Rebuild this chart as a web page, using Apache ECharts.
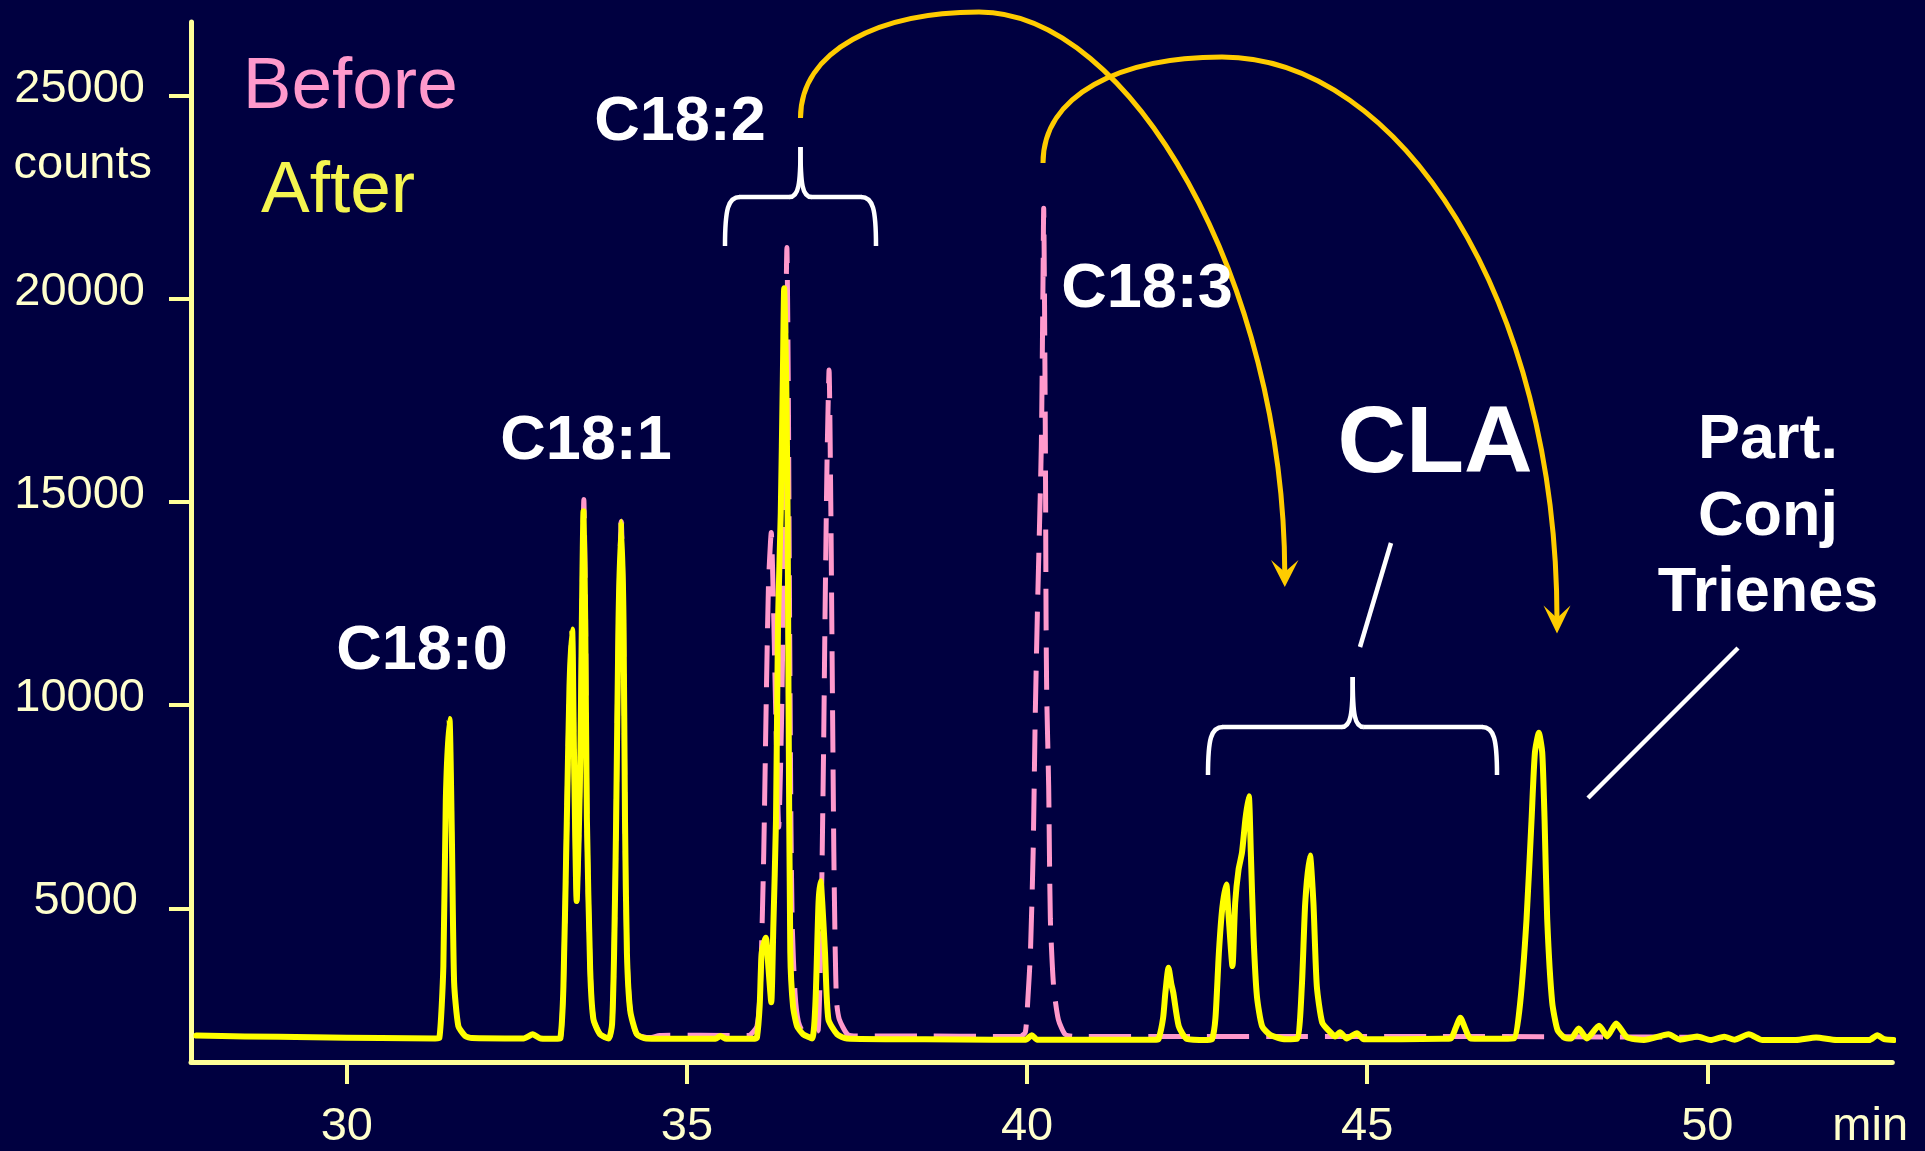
<!DOCTYPE html>
<html>
<head>
<meta charset="utf-8">
<script src="https://cdn.jsdelivr.net/npm/echarts@6/dist/echarts.min.js"></script>
<style>
html,body{margin:0;padding:0;background:#000040;}
#chart{width:1925px;height:1151px;}
</style>
</head>
<body>
<div id="chart"></div>
<script>
// ---------- DATA ----------
const xTicks = [30, 35, 40, 45, 50];
const yTicks = [5000, 10000, 15000, 20000, 25000];
const seriesNames = ['Before', 'After'];
const peakLabels = ['C18:0', 'C18:1', 'C18:2', 'C18:3', 'CLA'];
const trieneLabel = ['Part.', 'Conj', 'Trienes'];

// retention time (min), counts  — "After" trace (solid yellow)
const afterTrace = [
  [27.79,1870],[28.5,1850],[29.5,1830],[30.5,1810],[31.3,1800],
  [31.36,1810],[31.42,3580],[31.456,7680],[31.51,9660],[31.544,6870],[31.578,3180],[31.64,2105],[31.74,1860],[31.84,1810],
  [32.6,1800],[32.735,1900],[32.85,1800],[33.1,1790],
  [33.14,1800],[33.185,3090],[33.235,7190],[33.274,10470],[33.313,11860],[33.34,8836],[33.38,5180],[33.41,6800],[33.435,8836],[33.456,12100],[33.48,14770],[33.505,12100],[33.53,7190],[33.578,3500],[33.626,2270],[33.725,1900],[33.85,1800],
  [33.90,2150],[33.93,3918],[33.96,7190],[33.995,12106],[34.035,14520],[34.068,12106],[34.09,7190],[34.118,3918],[34.167,2480],[34.265,1900],[34.4,1800],
  [35.0,1790],[35.42,1790],[35.49,1860],[35.58,1790],[36.0,1790],
  [36.03,1820],[36.07,2600],[36.10,3910],[36.16,4280],[36.20,3500],[36.24,2690],[36.27,4500],[36.31,7190],[36.34,12100],[36.38,14740],[36.41,18010],[36.43,20260],[36.46,18010],[36.48,14740],[36.494,10220],[36.52,3918],[36.56,2600],[36.62,2100],[36.71,1900],[36.84,1800],
  [36.89,2690],[36.935,5140],[36.965,5670],[36.99,5140],[37.03,3918],[37.08,2270],[37.21,1900],[37.35,1800],
  [38.5,1780],[39.5,1770],[39.98,1770],[40.07,1880],[40.15,1770],[41.0,1770],[41.9,1770],
  [41.935,1790],[42.0,2300],[42.034,2927],[42.08,3540],[42.12,3150],[42.15,2927],[42.23,2105],[42.35,1790],[42.65,1760],
  [42.72,1780],[42.77,2300],[42.82,3900],[42.87,5000],[42.93,5590],[42.96,4900],[43.02,3580],[43.06,5140],[43.11,5960],[43.16,6370],[43.21,7190],[43.26,7760],[43.29,6370],[43.33,4310],[43.38,2830],[43.456,2100],[43.58,1880],[43.8,1780],
  [43.97,1790],[44.04,3090],[44.09,5140],[44.16,6300],[44.21,5140],[44.26,3090],[44.34,2190],[44.46,1950],[44.53,1850],[44.60,1950],[44.7,1800],[44.85,1930],[44.95,1780],[45.5,1780],
  [46.1,1790],[46.23,1800],[46.30,2050],[46.37,2310],[46.44,2050],[46.52,1800],[47.0,1790],
  [47.16,1800],[47.25,2680],[47.343,4730],[47.417,7190],[47.466,8830],[47.524,9320],[47.574,8830],[47.608,7190],[47.647,4730],[47.72,2690],[47.80,2000],[47.9,1820],
  [48.0,1800],[48.11,2045],[48.23,1800],[48.41,2110],[48.53,1850],[48.66,2170],[48.82,1830],[49.07,1760],[49.43,1900],[49.6,1770],[49.85,1850],[50.05,1760],[50.25,1840],[50.4,1770],[50.61,1900],[50.81,1760],[51.3,1760],[51.6,1820],[51.9,1760],[52.38,1760],[52.5,1880],[52.6,1780],[52.74,1760]
];

// "Before" trace (dashed pink)
const beforeTrace = [
  [33.1,1800],[33.14,1800],[33.185,3090],[33.235,7190],[33.274,10470],[33.313,11860],[33.34,8836],[33.38,5180],[33.41,6800],[33.435,8836],[33.456,12100],[33.485,15060],[33.51,12100],[33.53,7190],[33.578,3500],[33.626,2270],[33.725,1900],[33.85,1800],
  [33.90,2150],[33.93,3918],[33.96,7190],[33.995,12106],[34.035,14520],[34.068,12106],[34.09,7190],[34.118,3918],[34.167,2480],[34.265,1900],[34.45,1820],[34.6,1870],[35.2,1880],[35.9,1870],
  [36.03,2100],[36.08,3090],[36.11,4900],[36.13,6380],[36.17,10470],[36.20,13000],[36.24,14250],[36.27,12650],[36.31,9500],[36.35,7000],[36.39,9500],[36.42,13000],[36.445,18000],[36.47,21260],[36.49,18000],[36.51,12000],[36.53,7000],[36.55,4500],[36.59,2900],[36.64,2200],[36.72,1950],[36.88,1950],
  [36.93,2000],[36.96,3500],[36.985,5900],[37.01,9000],[37.03,12100],[37.06,16000],[37.09,18250],[37.115,15000],[37.13,12100],[37.16,6380],[37.18,4000],[37.20,2700],[37.24,2270],[37.36,1900],[37.5,1860],
  [38.5,1860],[39.5,1850],[39.9,1850],[39.975,1950],[40.01,2700],[40.05,3920],[40.09,6380],[40.12,9660],[40.15,12100],[40.21,16370],[40.235,20470],[40.245,22230],[40.255,20470],[40.27,16370],[40.28,12106],[40.29,10220],[40.318,8020],[40.343,4740],[40.39,3100],[40.46,2270],[40.56,1900],[40.7,1850],
  [42.0,1850],[44.0,1850],[46.0,1850],[48.0,1840],[49.9,1830]
];

// ---------- STYLE ----------
const FONT = "'Liberation Sans', Arial, Helvetica, sans-serif";
const AXIS = '#FFFF99';
const LABEL = '#FFFFCC';
const PINK = '#FF99CC';
const YELLOW = '#FFFF00';
const ORANGE = '#FFCC00';
const WHITE = '#FFFFFF';

function txt(text, x, y, size, opts) {
  opts = opts || {};
  return {
    type: 'text', x: x, y: y, z: 100,
    style: {
      text: text,
      fill: opts.color || WHITE,
      font: (opts.bold === false ? '' : 'bold ') + size + 'px ' + FONT,
      textAlign: opts.align || 'center', align: opts.align || 'center',
      textVerticalAlign: 'middle', verticalAlign: 'middle'
    }
  };
}
function bez(p0, c1, c2, p1, color, w) {
  return { type: 'bezierCurve', z: 90,
    shape: { x1: p0[0], y1: p0[1], cpx1: c1[0], cpy1: c1[1], cpx2: c2[0], cpy2: c2[1], x2: p1[0], y2: p1[1] },
    style: { stroke: color, lineWidth: w, fill: null, lineCap: 'butt' } };
}
function seg(p0, p1, color, w) {
  return { type: 'line', z: 90, shape: { x1: p0[0], y1: p0[1], x2: p1[0], y2: p1[1] },
    style: { stroke: color, lineWidth: w, lineCap: 'butt' } };
}
function brace(xl, xr, xTip, yH, yEnd, yTip, color, w) {
  const r = 15;
  return [
    bez([xl, yEnd], [xl, yH + 12], [xl + 3, yH], [xl + r, yH], color, w),
    seg([xl + r - 0.5, yH], [xTip - 10.5, yH], color, w),
    bez([xTip - 11, yH], [xTip - 2, yH], [xTip, yH - 12], [xTip, yTip], color, w),
    bez([xTip, yTip], [xTip, yH - 12], [xTip + 2, yH], [xTip + 11, yH], color, w),
    seg([xTip + 10.5, yH], [xr - r + 0.5, yH], color, w),
    bez([xr - r, yH], [xr - 3, yH], [xr, yH + 12], [xr, yEnd], color, w)
  ];
}

const graphics = [
  txt(peakLabels[0], 422, 652, 63),
  txt(peakLabels[1], 586, 442, 63),
  txt(peakLabels[2], 680, 123, 63),
  txt(peakLabels[3], 1147, 290, 63),
  txt(peakLabels[4], 1435, 446, 95),
  txt(trieneLabel[0], 1768, 441, 63),
  txt(trieneLabel[1], 1768, 518, 63),
  txt(trieneLabel[2], 1768, 594, 63),
  // braces
  ...brace(725, 876, 800.5, 197, 246, 147, WHITE, 4.5),
  ...brace(1208, 1497, 1352.7, 727, 775, 677, WHITE, 4.5),
  // pointer lines
  seg([1391, 543], [1360, 647], WHITE, 4.5),
  seg([1738, 648], [1588, 798], WHITE, 4.5),
  // orange arcs
  bez([800.5, 118], [800.5, 50], [880, 12], [979, 12], ORANGE, 5),
  bez([979, 12], [1130, 12], [1284, 280], [1284.8, 574], ORANGE, 5),
  bez([1043, 163], [1043, 95], [1120, 57], [1222, 57], ORANGE, 5),
  bez([1222, 57], [1400, 57], [1557, 300], [1557, 620], ORANGE, 5),
  { type: 'polygon', z: 95, shape: { points: [[1284.8, 587], [1271, 560], [1284.8, 572], [1298.5, 560]] }, style: { fill: ORANGE } },
  { type: 'polygon', z: 95, shape: { points: [[1557, 633.5], [1543.5, 605.5], [1557, 618], [1570.5, 605.5]] }, style: { fill: ORANGE } }
];

const option = {
  backgroundColor: '#000040',
  animation: false,
  grid: { left: 191, right: 32.7, top: 22, bottom: 88.3 },
  legend: [
    { data: [{ name: seriesNames[0], textStyle: { color: PINK } }], left: 237.7, top: 47.5, padding: 0,
      icon: 'none', itemWidth: 0, selectedMode: false,
      textStyle: { fontSize: 73, fontFamily: FONT, lineHeight: 80, color: PINK } },
    { data: [{ name: seriesNames[1], textStyle: { color: '#F5F550' } }], left: 256, top: 151.7, padding: 0,
      icon: 'none', itemWidth: 0, selectedMode: false,
      textStyle: { fontSize: 73, fontFamily: FONT, lineHeight: 80, color: '#F5F550' } }
  ],
  xAxis: {
    type: 'value', min: 27.71, max: 52.72,
    name: 'min', nameLocation: 'end', nameGap: -60,
    nameTextStyle: { color: LABEL, fontSize: 47, fontFamily: FONT, align: 'left', verticalAlign: 'top', lineHeight: 47, padding: [42, 0, 0, 0] },
    axisLine: { onZero: false, lineStyle: { color: AXIS, width: 5 } },
    axisTick: { customValues: xTicks, length: 22, lineStyle: { color: AXIS, width: 4 } },
    axisLabel: { customValues: xTicks, margin: 42, color: LABEL, fontSize: 47, fontFamily: FONT, lineHeight: 47 },
    splitLine: { show: false }
  },
  yAxis: {
    type: 'value', min: 1220, max: 26810,
    name: 'counts', nameLocation: 'end', nameGap: -142.7,
    nameTextStyle: { color: LABEL, fontSize: 47, fontFamily: FONT, align: 'right', verticalAlign: 'middle', lineHeight: 47, padding: [0, 39, 0, 0] },
    axisLine: { onZero: false, lineStyle: { color: AXIS, width: 5 } },
    axisTick: { customValues: yTicks, length: 22, lineStyle: { color: AXIS, width: 4 } },
    axisLabel: {
      customValues: yTicks, margin: 46, color: LABEL, fontSize: 47, fontFamily: FONT, lineHeight: 47,
      padding: [0, 0, 14, 0],
      formatter: function (v) { return v === 5000 ? '{n|5000}' : String(v); },
      rich: { n: { color: LABEL, fontSize: 47, fontFamily: FONT, lineHeight: 47, padding: [0, 7, 0, 0] } }
    },
    splitLine: { show: false }
  },
  series: [
    { name: seriesNames[0], type: 'line', data: beforeTrace, showSymbol: false, symbol: 'none', smooth: 0.2,
      lineStyle: { color: PINK, width: 5, type: [42, 17] }, itemStyle: { color: PINK }, z: 2 },
    { name: seriesNames[1], type: 'line', data: afterTrace, showSymbol: false, symbol: 'none', smooth: 0.2,
      lineStyle: { color: YELLOW, width: 6, join: 'round', cap: 'round' }, itemStyle: { color: YELLOW }, z: 3 }
  ],
  graphic: graphics
};

const chart = echarts.init(document.getElementById('chart'), null, { renderer: 'canvas' });
chart.setOption(option);
</script>
</body>
</html>
